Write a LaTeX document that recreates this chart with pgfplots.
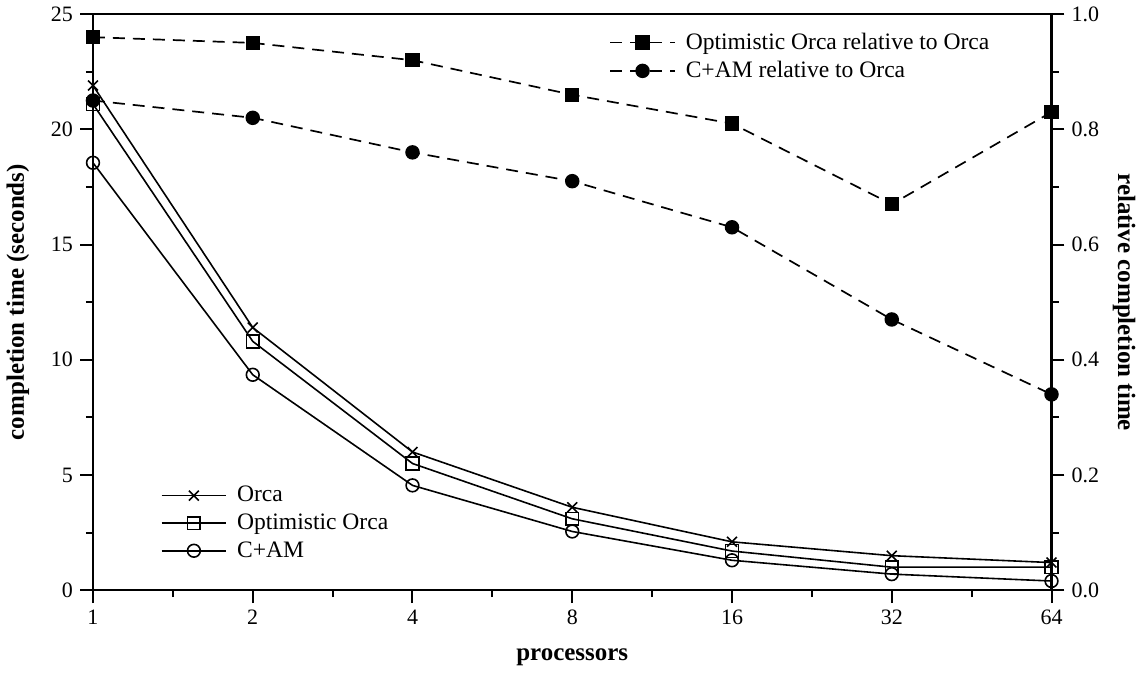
\documentclass[border=0pt]{standalone}
\usepackage{fontspec}
\setmainfont{Liberation Serif}
\usepackage{pgfplots}
\pgfplotsset{compat=1.18}

% x positions are log2(processors): 0..6 -> 1..64
\pgfplotsset{
  twinaxis/.style={
    scale only axis, width=480pt, height=288.5pt,
    xmin=0, xmax=6,
    xtick={0,1,2,3,4,5,6},
    xticklabels={1,2,4,8,16,32,64},
    minor xtick={0.5,1.5,2.5,3.5,4.5,5.5},
    tick align=outside,
    major tick length=6.5pt, minor tick length=3.5pt,
    every tick/.style={black, line width=1pt},
    axis line style={line width=1.2pt},
    /pgf/number format/assume math mode=true,
    tick label style={font=\fontsize{11}{12}\selectfont},
    label style={font=\fontsize{12.5}{13}\selectfont\bfseries},
    legend style={draw=none, fill=none, font=\fontsize{11.8}{13}\selectfont,
      row sep=0.5pt, /tikz/every odd column/.style={column sep=3pt}},
    legend cell align=left,
    legend image code/.code={\draw[mark repeat=2,mark phase=2]
      plot coordinates {(0cm,0cm)(0.57cm,0cm)(1.14cm,0cm)};},
  },
}

\begin{document}
\begin{tikzpicture}
\begin{axis}[
  twinaxis,
  ymin=0, ymax=25,
  ytick={0,5,10,15,20,25},
  minor ytick={2.5,7.5,12.5,17.5,22.5},
  xtick pos=bottom, ytick pos=left,
  xlabel={processors},
  ylabel={completion time (seconds)},
  xlabel style={yshift=-5pt},
  ylabel style={yshift=4pt},
  legend style={at={(0.064,0.195)}, anchor=north west},
]
\addplot[black, line width=0.8pt, mark=x, mark size=3.5pt] coordinates {
  (0,21.9) (1,11.4) (2,6.0) (3,3.6) (4,2.1) (5,1.5) (6,1.2)
};
\addlegendentry{Orca}
\addplot[black, line width=0.8pt, mark=square, mark size=3.2pt,
  mark options={fill=white}] coordinates {
  (0,21.1) (1,10.8) (2,5.5) (3,3.1) (4,1.7) (5,1.0) (6,1.0)
};
\addlegendentry{Optimistic Orca}
\addplot[black, line width=0.8pt, mark=o, mark size=3.2pt,
  mark options={fill=white}] coordinates {
  (0,18.55) (1,9.35) (2,4.55) (3,2.55) (4,1.3) (5,0.7) (6,0.4)
};
\addlegendentry{C+AM}
\end{axis}

\begin{axis}[
  twinaxis,
  ymin=0, ymax=1.0,
  ytick={0,0.2,0.4,0.6,0.8,1.0},
  minor ytick={0.1,0.3,0.5,0.7,0.9},
  yticklabel style={/pgf/number format/fixed, /pgf/number format/fixed zerofill,
    /pgf/number format/precision=1},
  axis y line*=right, axis x line=none,
  ylabel={relative completion time},
  ylabel style={rotate=180},
  legend style={at={(0.532,0.982)}, anchor=north west},
]
\addplot[black, line width=0.85pt, dash pattern=on 6pt off 4pt,
  mark=square*, mark size=3.2pt, mark options={solid}] coordinates {
  (0,0.96) (1,0.95) (2,0.92) (3,0.86) (4,0.81) (5,0.67) (6,0.83)
};
\addlegendentry{Optimistic Orca relative to Orca}
\addplot[black, line width=0.85pt, dash pattern=on 6pt off 4pt,
  mark=*, mark size=3.2pt, mark options={solid}] coordinates {
  (0,0.85) (1,0.82) (2,0.76) (3,0.71) (4,0.63) (5,0.47) (6,0.34)
};
\addlegendentry{C+AM relative to Orca}
\end{axis}
\end{tikzpicture}
\end{document}
